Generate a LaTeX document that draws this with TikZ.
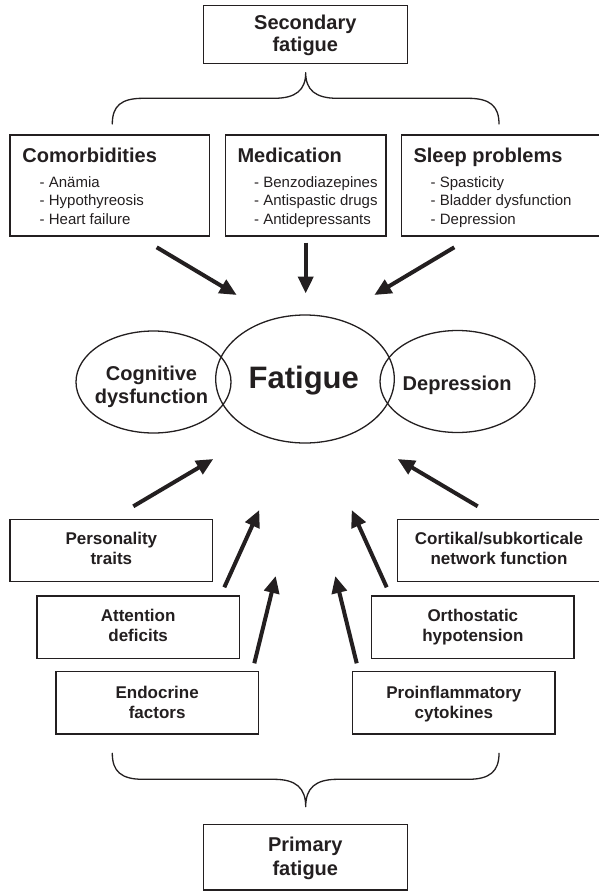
\documentclass[tikz,border=0pt]{standalone}
\usepackage{fontspec}
\setmainfont{Liberation Sans}
\usetikzlibrary{shapes.geometric,arrows.meta}
\definecolor{ink}{HTML}{231F20}

\begin{document}
\begin{tikzpicture}[x=1pt,y=-1pt,
  box/.style={draw=ink, line width=1.3pt, inner sep=0pt},
  oval/.style={ellipse, draw=ink, line width=1.3pt, inner sep=0pt},
  head/.style={font=\fontsize{20}{23}\selectfont\bfseries, text=ink, inner sep=0pt, anchor=base west},
  headc/.style={font=\fontsize{20}{23}\selectfont\bfseries, text=ink, inner sep=0pt, anchor=base},
  item/.style={font=\fontsize{15}{18}\selectfont, text=ink, inner sep=0pt, anchor=base west},
  factor/.style={font=\fontsize{17}{20}\selectfont\bfseries, text=ink, inner sep=0pt, anchor=base},
  push/.style={draw=ink, line width=4pt, -{Triangle[length=17pt,width=15pt]}},
  brace/.style={draw=ink, line width=1.3pt, line cap=round, line join=round}]

\useasboundingbox (0,0) rectangle (599,892);

% ---------- secondary fatigue ----------
\node[box, minimum width=204pt, minimum height=57.6pt] (sec) at (305.3,34.5) {};
\node[headc] (secA) at (305.3,29.3) {Secondary};
\node[headc] (secB) at (305.3,51.8) {fatigue};

\draw[brace] (112.3,124) .. controls (112.3,106) and (121,98.3) .. (143,98.3)
  -- (274,98.3) .. controls (296,98.3) and (305.7,90) .. (305.7,72.7)
  .. controls (305.7,90) and (315.4,98.3) .. (337.4,98.3)
  -- (468,98.3) .. controls (490,98.3) and (499,106) .. (499,124);

% ---------- secondary causes ----------
\node[box, minimum width=199.3pt, minimum height=101pt] (com) at (109.65,185.5) {};
\node[head] (comT) at (22.3,162.7) {Comorbidities};
\node[item] (com1) at (39.5,187.3) {- Anämia};
\node[item] (com2) at (39.5,205.8) {- Hypothyreosis};
\node[item] (com3) at (39.5,224) {- Heart failure};

\node[box, minimum width=160.7pt, minimum height=101pt] (med) at (305.65,185.5) {};
\node[head] (medT) at (237.3,162.7) {Medication};
\node[item] (med1) at (254,187.3) {- Benzodiazepines};
\node[item] (med2) at (254,205.8) {- Antispastic drugs};
\node[item] (med3) at (254,224) {- Antidepressants};

\node[box, minimum width=199.3pt, minimum height=101pt] (slp) at (501.35,185.5) {};
\node[head] (slpT) at (413.3,162.7) {Sleep problems};
\node[item] (slp1) at (430.5,187.3) {- Spasticity};
\node[item] (slp2) at (430.5,205.8) {- Bladder dysfunction};
\node[item] (slp3) at (430.5,224) {- Depression};

% ---------- central cluster ----------
\node[oval, minimum width=155pt, minimum height=102pt] (cog) at (153.5,382) {};
\node[oval, minimum width=155pt, minimum height=102pt] (dep) at (457.5,381.5) {};
\node[oval, minimum width=178.6pt, minimum height=128pt] (fat) at (305,379) {};
\node[headc] (cogA) at (151.5,380) {Cognitive};
\node[headc] (cogB) at (151.5,403.3) {dysfunction};
\node[font=\fontsize{31}{36}\selectfont\bfseries, text=ink, inner sep=0pt, anchor=base] (fatT) at (303.8,388.7) {Fatigue};
\node[headc] (depT) at (457.2,390) {Depression};

% ---------- primary causes ----------
\node[box, minimum width=202.7pt, minimum height=62.4pt] (per) at (111.35,550.5) {};
\node[factor] (perA) at (111.35,544) {Personality};
\node[factor] (perB) at (111.35,564) {traits};

\node[box, minimum width=202.7pt, minimum height=62.4pt] (cor) at (499.05,550.5) {};
\node[factor] (corA) at (499.05,544) {Cortikal/subkorticale};
\node[factor] (corB) at (499.05,564) {network function};

\node[box, minimum width=202.3pt, minimum height=62.3pt] (att) at (138.15,627.15) {};
\node[factor] (attA) at (138.15,621.7) {Attention};
\node[factor] (attB) at (138.15,641.7) {deficits};

\node[box, minimum width=202.3pt, minimum height=62.3pt] (ort) at (472.85,627.15) {};
\node[factor] (ortA) at (472.85,621.7) {Orthostatic};
\node[factor] (ortB) at (472.85,641.7) {hypotension};

\node[box, minimum width=202.3pt, minimum height=62.3pt] (endo) at (157.15,702.85) {};
\node[factor] (endoA) at (157.15,698.3) {Endocrine};
\node[factor] (endoB) at (157.15,718.5) {factors};

\node[box, minimum width=202.3pt, minimum height=62.3pt] (pro) at (453.85,702.85) {};
\node[factor] (proA) at (453.85,698.3) {Proinflammatory};
\node[factor] (proB) at (453.85,718.5) {cytokines};

\draw[brace] (112.3,753.3) .. controls (112.3,771.3) and (121,779.3) .. (143,779.3)
  -- (274,779.3) .. controls (296,779.3) and (305.7,788) .. (305.7,806.7)
  .. controls (305.7,788) and (315.4,779.3) .. (337.4,779.3)
  -- (468,779.3) .. controls (490,779.3) and (499,771.3) .. (499,753.3);

\node[box, minimum width=204pt, minimum height=65.7pt] (pri) at (305.3,857.15) {};
\node[headc] (priA) at (305.3,851.7) {Primary};
\node[headc] (priB) at (305.3,875) {fatigue};

% ---------- arrows towards fatigue ----------
\coordinate (t1) at (156.7,247.3);  \coordinate (h1) at (236.7,295);
\coordinate (t2) at (305.7,242.7);  \coordinate (h2) at (305.7,293.5);
\coordinate (t3) at (454.3,247.3);  \coordinate (h3) at (374.3,295);
\draw[push] (t1) -- (h1);
\draw[push] (t2) -- (h2);
\draw[push] (t3) -- (h3);

\coordinate (b1) at (133.3,506.3);  \coordinate (g1) at (213.3,459);
\coordinate (b2) at (224.3,587.3);  \coordinate (g2) at (259.3,510);
\coordinate (b3) at (254.3,663.3);  \coordinate (g3) at (275.7,576);
\coordinate (b4) at (356.7,663.3);  \coordinate (g4) at (335.3,576);
\coordinate (b5) at (386.7,587.3);  \coordinate (g5) at (351.7,510);
\coordinate (b6) at (477.7,506.3);  \coordinate (g6) at (397.7,459);
\foreach \i in {1,...,6} { \draw[push] (b\i) -- (g\i); }
\end{tikzpicture}
\end{document}
